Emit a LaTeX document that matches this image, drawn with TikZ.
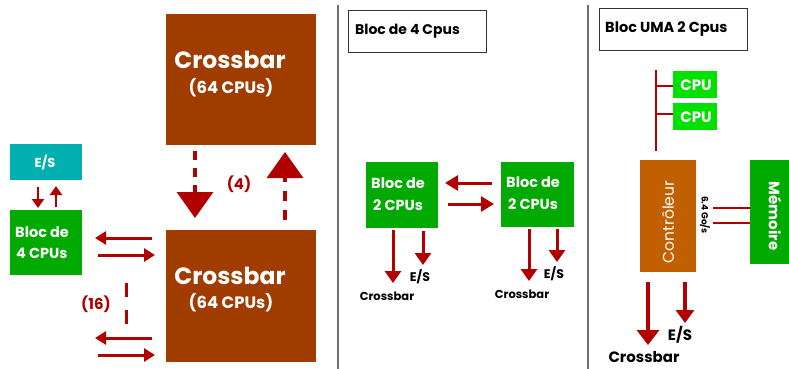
\documentclass[tikz,border=0pt]{standalone}
\usepackage{fontspec}
\setmainfont{Poppins}
\usetikzlibrary{arrows.meta,calc}
\definecolor{brn}{RGB}{160,60,0}
\definecolor{teal2}{RGB}{0,176,176}
\definecolor{grn}{RGB}{0,170,0}
\definecolor{lgrn}{RGB}{0,225,0}
\definecolor{orng}{RGB}{192,96,0}
\definecolor{dred}{RGB}{176,0,0}
\definecolor{sep}{RGB}{110,110,110}
\newcommand{\fs}[1]{\fontsize{#1}{#1}\selectfont}
\tikzset{
  box/.style={anchor=north west, inner sep=0, draw=none},
  wt/.style={text=white, inner sep=0, font=\bfseries\fs{#1}},
  bt/.style={text=black, inner sep=0, font=\bfseries\fs{#1}},
  rt/.style={text=dred, inner sep=0, font=\bfseries\fs{#1}},
  arr/.style={draw=dred, line width=3pt, -{Triangle[length=11pt,width=13pt]}},
  arrb/.style={draw=dred, line width=3.5pt, -{Triangle[length=14pt,width=18pt]}},
  darr/.style={draw=dred, line width=3.5pt, dash pattern=on 9pt off 8pt, -{Triangle[length=26pt,width=36pt]}},
  thin/.style={draw=dred, line width=1.4pt},
  titlebox/.style={anchor=north west, draw=black!80, line width=0.8pt, inner sep=0, fill=white},
}
\begin{document}
\begin{tikzpicture}[x=1pt,y=-1pt]
\path[use as bounding box, fill=white] (0,0) rectangle (789,369);
% separators
\draw[sep, line width=1.5pt] (338,5) -- (338,369);
\draw[sep, line width=1.5pt] (588,5) -- (588,369);

% ===== left panel =====
\node[box, fill=brn, minimum width=150pt, minimum height=131pt] (cb1) at (166,14) {};
\node[wt=23.5] (cb1t) at (230,60) {Crossbar};
\node[wt=16.5] (cb1s) at (231,88) {(64 CPUs)};
\node[box, fill=brn, minimum width=150pt, minimum height=132pt] (cb2) at (166,230) {};
\node[wt=23.5] (cb2t) at (230,276) {Crossbar};
\node[wt=16.5] (cb2s) at (231,303) {(64 CPUs)};

\node[box, fill=teal2, minimum width=72pt, minimum height=36pt] (es) at (10,144) {};
\node[wt=13] (est) at (45,163) {E/S};
\node[box, fill=grn, minimum width=72pt, minimum height=65pt] (b4) at (10,210) {};
\node[wt=14.5, anchor=west] (b4a) at (15,232) {Bloc de};
\node[wt=14.5, anchor=west] (b4b) at (16,253) {4 CPUs};

\coordinate (e1s) at (38,187); \coordinate (e1e) at (38,208);
\coordinate (e2s) at (56,207); \coordinate (e2e) at (56,186);
\draw[arr, line width=2.6pt, -{Triangle[length=9pt,width=12pt]}] (e1s) -- (e1e);
\draw[arr, line width=2.6pt, -{Triangle[length=9pt,width=12pt]}] (e2s) -- (e2e);

\coordinate (h1s) at (152,238); \coordinate (h1e) at (95,238);
\coordinate (h2s) at (98,255); \coordinate (h2e) at (155,255);
\coordinate (h3s) at (152,338); \coordinate (h3e) at (95,338);
\coordinate (h4s) at (98,355); \coordinate (h4e) at (155,355);
\draw[arr] (h1s) -- (h1e);
\draw[arr] (h2s) -- (h2e);
\draw[arr] (h3s) -- (h3e);
\draw[arr] (h4s) -- (h4e);

\coordinate (d16a) at (126,283); \coordinate (d16b) at (126,325);
\draw[dred, line width=3pt, dash pattern=on 14pt off 13pt] (d16a) -- (d16b);
\node[rt=15] (l16) at (96,304) {(16)};

\coordinate (dd1) at (195,151); \coordinate (dd2) at (195,218);
\coordinate (du1) at (285,220); \coordinate (du2) at (285,152);
\draw[darr] (dd1) -- (dd2);
\draw[darr, dash pattern=on 10pt off 9pt] (du1) -- (du2);
\node[rt=15] (l4) at (239,184) {(4)};

% ===== middle panel =====
\node[titlebox, minimum width=138pt, minimum height=42pt] (t4) at (348,10) {};
\node[bt=14, anchor=west] (t4t) at (355,31) {Bloc de 4 Cpus};

\node[box, fill=grn, minimum width=72pt, minimum height=66pt] (m1) at (366,162) {};
\node[wt=14.5, anchor=west] (m1a) at (371,183) {Bloc de};
\node[wt=14.5, anchor=west] (m1b) at (373,205) {2 CPUs};
\node[box, fill=grn, minimum width=73pt, minimum height=65pt] (m2) at (501,162) {};
\node[wt=14.5, anchor=west] (m2a) at (506,182) {Bloc de};
\node[wt=14.5, anchor=west] (m2b) at (508,204) {2 CPUs};

\coordinate (mh1s) at (492,183); \coordinate (mh1e) at (445,183);
\coordinate (mh2s) at (448,204); \coordinate (mh2e) at (494,204);
\draw[arr, -{Triangle[length=13pt,width=15pt]}] (mh1s) -- (mh1e);
\draw[arr, -{Triangle[length=13pt,width=15pt]}] (mh2s) -- (mh2e);

\coordinate (ma1) at (393,230); \coordinate (ma1e) at (393,283);
\coordinate (ma2) at (423,231); \coordinate (ma2e) at (423,265);
\coordinate (mb1) at (529,229); \coordinate (mb1e) at (529,281);
\coordinate (mb2) at (557,229); \coordinate (mb2e) at (557,262);
\draw[arr, -{Triangle[length=12pt,width=16pt]}] (ma1) -- (ma1e);
\draw[arr, -{Triangle[length=12pt,width=16pt]}] (ma2) -- (ma2e);
\draw[arr, -{Triangle[length=12pt,width=16pt]}] (mb1) -- (mb1e);
\draw[arr, -{Triangle[length=12pt,width=16pt]}] (mb2) -- (mb2e);
\node[bt=12.5] (mes1) at (420,277) {E/S};
\node[bt=11.5] (mcb1) at (387,296) {Crossbar};
\node[bt=12.5] (mes2) at (554,274) {E/S};
\node[bt=11.5] (mcb2) at (522,294) {Crossbar};

% ===== right panel =====
\node[titlebox, minimum width=148pt, minimum height=42pt] (tu) at (599,8) {};
\node[bt=14.5, anchor=west] (tut) at (605,29) {Bloc UMA 2 Cpus};

\coordinate (vb1) at (656,70); \coordinate (vb2) at (656,151);
\draw[thin] (vb1) -- (vb2);
\node[box, fill=lgrn, minimum width=44pt, minimum height=27pt] (cpu1) at (673,71) {};
\node[box, fill=lgrn, minimum width=44pt, minimum height=27pt] (cpu2) at (673,103) {};
\node[wt=15] (cpu1t) at (696,85) {CPU};
\node[wt=15] (cpu2t) at (696,117) {CPU};
\draw[thin] (656,86) -- (cpu1.west |- 0,86);
\draw[thin] (656,114) -- (cpu2.west |- 0,114);

\node[box, fill=orng, minimum width=56pt, minimum height=112pt] (ctl) at (640,160) {};
\node[text=white, inner sep=0, font=\fs{15.5}, rotate=90] (ctlt) at (668,222) {Contrôleur};
\node[box, fill=grn, minimum width=40pt, minimum height=104pt] (mem) at (750,160) {};
\node[text=white, inner sep=0, font=\bfseries\fs{15}, rotate=-90] (memt) at (775,216) {Mémoire};
\node[bt=9, rotate=-90] (bw) at (705,215) {6.4 Go/s};
\coordinate (bl1) at (713,208); \coordinate (bl2) at (713,223);
\draw[thin] (bl1) -- (mem.west |- bl1);
\draw[thin] (bl2) -- (mem.west |- bl2);

\coordinate (ra1) at (648,282); \coordinate (ra1e) at (648,345);
\coordinate (ra2) at (685,282); \coordinate (ra2e) at (685,323);
\draw[arrb, -{Triangle[length=15pt,width=22pt]}] (ra1) -- (ra1e);
\draw[arrb, -{Triangle[length=13pt,width=18pt]}] (ra2) -- (ra2e);
\node[bt=15] (res) at (680,335) {E/S};
\node[bt=15] (rcb) at (644,357) {Crossbar};
\end{tikzpicture}
\end{document}
